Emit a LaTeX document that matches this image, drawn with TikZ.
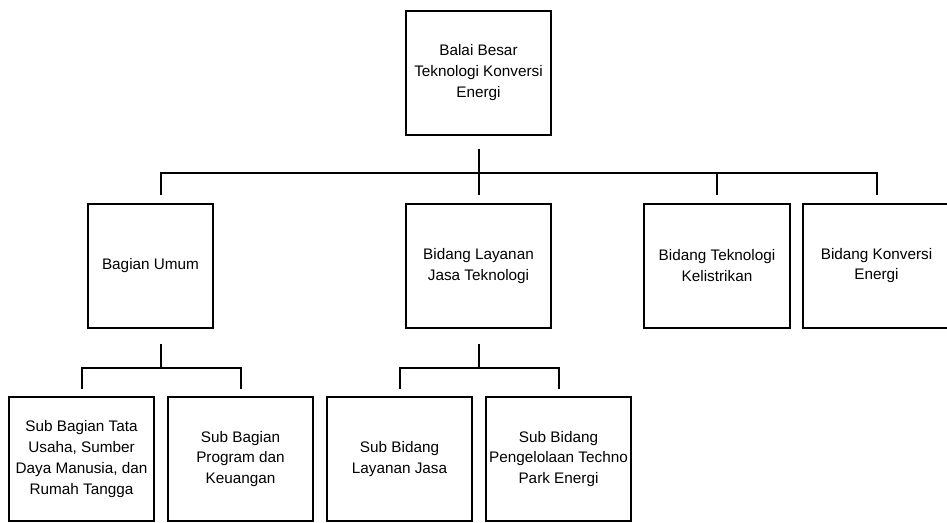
\documentclass[tikz,border=0pt]{standalone}
\usepackage{fontspec}
\setmainfont{Liberation Sans}

\begin{document}
\begin{tikzpicture}[x=1pt, y=-1pt, line width=2pt,
  unit/.style = {draw, rectangle, inner sep=0pt, align=center,
    minimum width=145pt, minimum height=124pt,
    font=\fontsize{15.3}{20.7}\selectfont},
  link/.style = {draw}]
\useasboundingbox (0,0) rectangle (947,522);
%\node[unit] (nodeID) at (x,y) {label};
\node[unit] (balai) at (478.5,72.5) {Balai Besar\\Teknologi Konversi\\Energi};
\node[unit, minimum width=125pt] (umum) at (150.5,266) {Bagian Umum};
\node[unit] (layanan) at (478.5,266) {Bidang Layanan\\Jasa Teknologi};
\node[unit, minimum width=146pt] (listrik) at (717,265.5) {Bidang Teknologi\\Kelistrikan};
\node[unit, minimum width=147pt] (konversi) at (876.5,265.5) {Bidang Konversi\\Energi};
\node[unit] (tatausaha) at (81.5,459) {Sub Bagian Tata\\Usaha, Sumber\\Daya Manusia, dan\\Rumah Tangga};
\node[unit] (program) at (240.5,459) {Sub Bagian\\Program dan\\Keuangan};
\node[unit] (jasa) at (399.5,459) {Sub Bidang\\Layanan Jasa};
\node[unit] (technopark) at (558.5,459) {Sub Bidang\\Pengelolaan Techno\\Park Energi};
\coordinate (fork1) at (478,173);
\coordinate (fork2) at (160.5,368);
\coordinate (fork3) at (478.5,368);
\draw[link] ([yshift=-13pt]balai.south) -- ([yshift=8pt]layanan.north);
\draw[link] ([xshift=10pt,yshift=8pt]umum.north) |- (fork1) -| ([yshift=8pt]konversi.north);
\draw[link] (fork1) -| ([yshift=8pt]listrik.north);
\draw[link] ([xshift=10pt,yshift=-15pt]umum.south) -- (fork2);
\draw[link] ([yshift=7pt]tatausaha.north) |- (fork2) -| ([yshift=7pt]program.north);
\draw[link] ([yshift=-15pt]layanan.south) -- (fork3);
\draw[link] ([yshift=7pt]jasa.north) |- (fork3) -| ([yshift=7pt]technopark.north);
\end{tikzpicture}
\end{document}
